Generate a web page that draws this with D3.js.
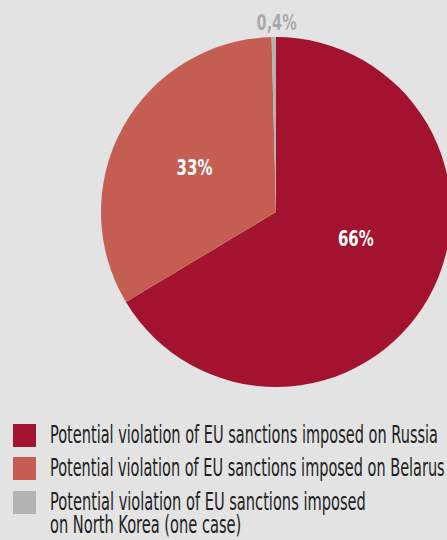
<!DOCTYPE html>
<html>
<head>
<meta charset="utf-8">
<script src="https://cdn.jsdelivr.net/npm/d3@7"></script>
<style>
  html, body { margin: 0; padding: 0; background: #e3e3e3; }
  svg { display: block; }
</style>
</head>
<body>
<div id="chart"></div>
<script>
// Share of cases by sanctions regime
const categories = ["Russia", "Belarus", "North Korea"];
const values = [66, 33, 0.4];
const valueLabels = ["66%", "33%", "0,4%"];
const legendLabels = [
  ["Potential violation of EU sanctions imposed on Russia"],
  ["Potential violation of EU sanctions imposed on Belarus"],
  ["Potential violation of EU sanctions imposed", "on North Korea (one case)"]
];
const colors = ["#a3122e", "#c55e52", "#b3b3b3"];

const W = 447, H = 540;
const cx = 276, cy = 212, R = 175;

const svg = d3.select("#chart").append("svg")
  .attr("width", W).attr("height", H);

svg.append("rect").attr("width", W).attr("height", H).attr("fill", "#e3e3e3");

const data = categories.map((c, i) => ({ cat: c, value: values[i], label: valueLabels[i], color: colors[i] }));

const pie = d3.pie().value(d => d.value).sort(null);
const arcs = pie(data);
const arc = d3.arc().innerRadius(0).outerRadius(R);

const g = svg.append("g").attr("transform", `translate(${cx},${cy})`);

g.selectAll("path.slice").data(arcs).enter().append("path")
  .attr("class", "slice")
  .attr("d", arc)
  .attr("fill", d => d.data.color);

const labelFont = "'DejaVu Sans Condensed', 'Liberation Sans Narrow', sans-serif";

// squeeze a text horizontally so that its first line spans the given width
function condense(sel, x, y, width, anchor) {
  const first = sel.select("tspan").node() || sel.node();
  const len = first.getComputedTextLength();
  const s = Math.min(1, width / len);
  sel.attr("x", 0).attr("y", 0)
    .attr("text-anchor", anchor)
    .attr("transform", `translate(${x},${y}) scale(${s},1)`);
}

// value labels: large slices inside, the tiny slice just outside the rim
arcs.forEach((d, i) => {
  const small = d.data.value < 5;
  let mid = (d.startAngle + d.endAngle) / 2;
  if (i === 0) mid -= 0.2; // nudge the big slice label up toward the middle
  const r = small ? R + 15 : (i === 0 ? 84 : 93);
  const x = Math.sin(mid) * r + (small ? 3 : 0);
  const y = -Math.cos(mid) * r;
  const t = g.append("text")
    .attr("font-family", labelFont)
    .attr("font-weight", "bold")
    .attr("font-size", small ? 21 : 22)
    .attr("fill", small ? "#a9a9a9" : "#ffffff")
    .text(d.data.label);
  condense(t, x, y + 8, small ? 40 : 36, "middle");
});

// legend: swatch plus a (possibly wrapped) label per series
const legend = svg.append("g").attr("transform", "translate(13,424)");
const rowY = [0, 33, 67];
const legendWidths = [388, 395, 316];
legendLabels.forEach((lines, i) => {
  const row = legend.append("g").attr("transform", `translate(0,${rowY[i]})`);
  row.append("rect")
    .attr("width", 23).attr("height", 23)
    .attr("fill", colors[i]);
  const t = row.append("text")
    .attr("font-family", labelFont)
    .attr("font-size", 24.5)
    .attr("fill", "#222222");
  lines.forEach((txt, j) => {
    t.append("tspan")
      .attr("x", 0)
      .attr("dy", j === 0 ? 0 : 23)
      .text(txt);
  });
  condense(t, 37, 19, legendWidths[i], "start");
});
</script>
</body>
</html>
